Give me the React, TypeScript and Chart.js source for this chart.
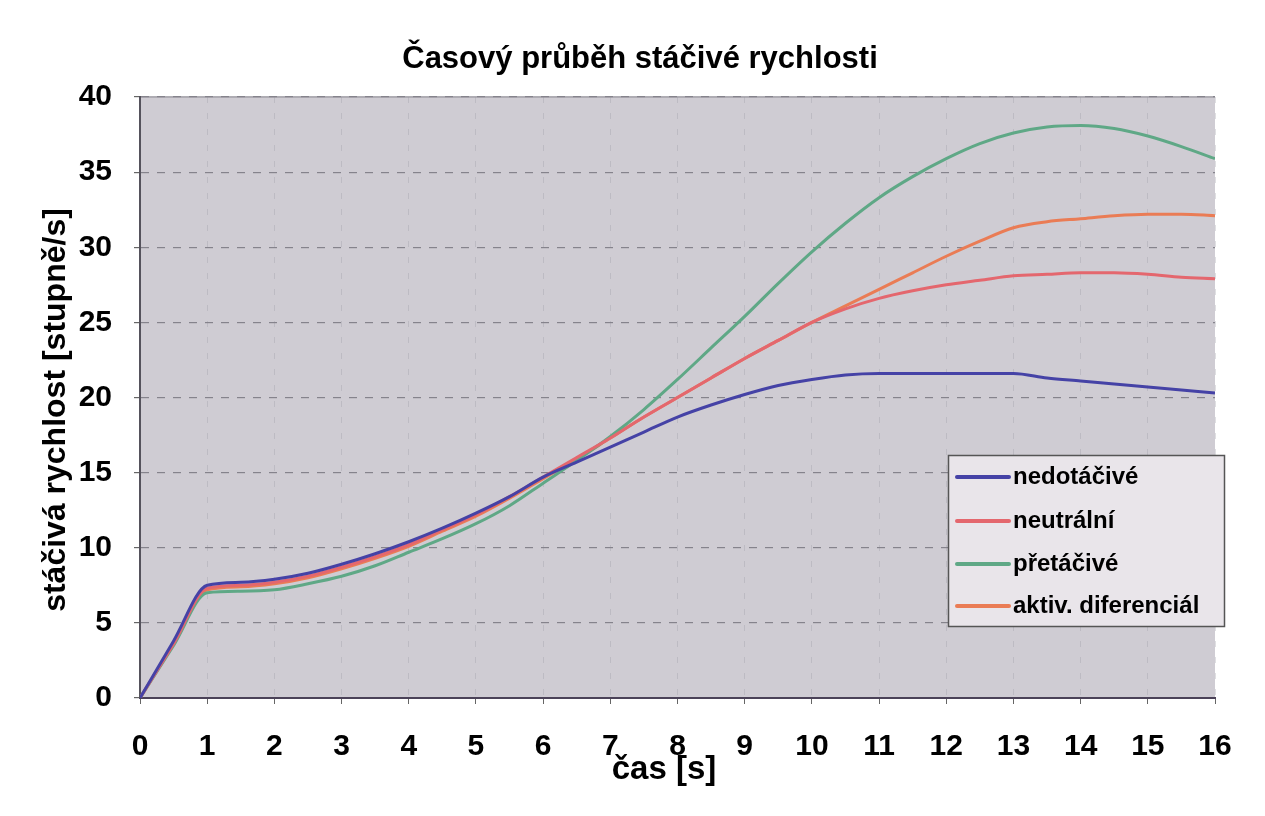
import React, { useEffect, useRef } from "react";
import { Chart, registerables } from "chart.js";

Chart.register(...registerables);

const TITLE = "Časový průběh stáčivé rychlosti";
const X_TITLE = "čas [s]";
const Y_TITLE = "stáčivá rychlost [stupně/s]";

const timeS = [0, 0.5, 1, 1.5, 2, 2.5, 3, 3.5, 4, 4.5, 5, 5.5, 6, 6.5, 7, 7.5, 8, 8.5, 9, 9.5, 10, 10.5, 11, 11.5, 12, 12.5, 13, 13.5, 14, 14.5, 15, 15.5, 16];

const labels = ["nedotáčivé", "neutrální", "přetáčivé", "aktiv. diferenciál"];
const colors = ["#4542a6", "#e4676e", "#5fa886", "#ea7c55"];

const nedotacive = [0, 3.8, 7.5, 7.7, 7.9, 8.3, 8.9, 9.6, 10.4, 11.3, 12.3, 13.4, 14.7, 15.7, 16.7, 17.7, 18.7, 19.5, 20.2, 20.8, 21.2, 21.5, 21.6, 21.6, 21.6, 21.6, 21.6, 21.3, 21.1, 20.9, 20.7, 20.5, 20.3];
const neutralni = [0, 3.6, 7.3, 7.5, 7.7, 8.1, 8.7, 9.4, 10.2, 11.2, 12.2, 13.4, 14.7, 16.0, 17.3, 18.7, 20.0, 21.3, 22.6, 23.8, 25.0, 25.9, 26.6, 27.1, 27.5, 27.8, 28.1, 28.2, 28.3, 28.3, 28.2, 28.0, 27.9];
const pretacive = [0, 3.5, 7.0, 7.1, 7.2, 7.6, 8.1, 8.8, 9.7, 10.6, 11.6, 12.8, 14.3, 15.8, 17.4, 19.2, 21.2, 23.3, 25.4, 27.6, 29.7, 31.6, 33.3, 34.7, 35.9, 36.9, 37.6, 38.0, 38.1, 37.9, 37.4, 36.7, 35.9];
const aktivDiferencial = [0, 3.6, 7.2, 7.4, 7.6, 8.0, 8.6, 9.3, 10.1, 11.1, 12.1, 13.3, 14.6, 15.9, 17.3, 18.7, 20.0, 21.3, 22.6, 23.8, 25.0, 26.1, 27.2, 28.3, 29.4, 30.4, 31.3, 31.7, 31.9, 32.1, 32.2, 32.2, 32.1];

const seriesValues = [nedotacive, neutralni, pretacive, aktivDiferencial];

const xTicks = [0, 1, 2, 3, 4, 5, 6, 7, 8, 9, 10, 11, 12, 13, 14, 15, 16];
const yTicks = [0, 5, 10, 15, 20, 25, 30, 35, 40];

const FONT = '"Liberation Sans", Arial, Helvetica, sans-serif';

const decorPlugin = {
  id: "decor",
  beforeDraw(chart: any) {
    const { ctx, chartArea: a } = chart;
    ctx.save();
    ctx.fillStyle = "#ffffff";
    ctx.fillRect(0, 0, chart.width, chart.height);
    ctx.fillStyle = "#cfccd3";
    ctx.fillRect(a.left, a.top, a.right - a.left, a.bottom - a.top);
    ctx.strokeStyle = "#aeacb3";
    ctx.lineWidth = 2;
    ctx.beginPath();
    ctx.moveTo(a.left, a.top);
    ctx.lineTo(a.right, a.top);
    ctx.stroke();
    ctx.restore();
  },
  afterDraw(chart: any) {
    const { ctx } = chart;
    ctx.save();
    ctx.fillStyle = "#000";
    ctx.textAlign = "center";
    ctx.textBaseline = "middle";
    ctx.font = `bold 31px ${FONT}`;
    ctx.fillText(TITLE, 640, 59);
    ctx.font = `bold 33px ${FONT}`;
    ctx.fillText(X_TITLE, 664, 770);
    ctx.save();
    ctx.translate(56, 410);
    ctx.rotate(-Math.PI / 2);
    ctx.font = `bold 32px ${FONT}`;
    ctx.fillText(Y_TITLE, 0, 0);
    ctx.restore();

    // legend
    const bx = 948.5, by = 455.5, bw = 276, bh = 171;
    ctx.fillStyle = "#e9e5ea";
    ctx.fillRect(bx, by, bw, bh);
    ctx.strokeStyle = "#555";
    ctx.lineWidth = 1.5;
    ctx.strokeRect(bx, by, bw, bh);
    const rows = [477, 521, 564, 606];
    chart.data.datasets.forEach((ds: any, i: number) => {
      const y = rows[i];
      ctx.strokeStyle = ds.borderColor;
      ctx.lineWidth = 4;
      ctx.lineCap = "round";
      ctx.beginPath();
      ctx.moveTo(957, y);
      ctx.lineTo(1009, y);
      ctx.stroke();
      ctx.fillStyle = "#000";
      ctx.textAlign = "left";
      ctx.font = `bold 24px ${FONT}`;
      ctx.fillText(ds.label, 1013, y);
    });
    ctx.restore();
  },
};

export default function App() {
  const ref = useRef<HTMLCanvasElement>(null);
  useEffect(() => {
    document.body.style.margin = "0";
    const canvas = ref.current!;
    const chart = new Chart(canvas, {
      type: "line",
      data: {
        datasets: seriesValues.map((vals, i) => ({
          label: labels[i],
          data: timeS.map((t, j) => ({ x: t, y: vals[j] })),
          borderColor: colors[i],
          backgroundColor: colors[i],
          borderWidth: 3,
          pointRadius: 0,
          cubicInterpolationMode: "monotone" as const,
          fill: false,
        })),
      },
      options: {
        animation: false,
        responsive: false,
        maintainAspectRatio: false,
        layout: { padding: { top: 97, right: 50, bottom: 0, left: 0 } },
        plugins: {
          legend: { display: false },
          title: { display: false },
          tooltip: { enabled: false },
        },
        scales: {
          x: {
            type: "linear",
            min: 0,
            max: 16,
            afterFit: (s: any) => { s.height = 118; },
            afterBuildTicks: (s: any) => { s.ticks = xTicks.map((v) => ({ value: v })); },
            ticks: {
              color: "#000",
              font: { family: FONT, size: 30, weight: "bold" },
              padding: 25,
              maxRotation: 0,
              autoSkip: false,
            },
            grid: {
              color: "rgba(150,148,158,0.3)",
              tickColor: "#666",
              tickLength: 6,
              lineWidth: 1,
            },
            border: { color: "#4b4258", width: 2, dash: [6, 10] },
          },
          y: {
            type: "linear",
            min: 0,
            max: 40,
            afterFit: (s: any) => { s.width = 140; },
            afterBuildTicks: (s: any) => { s.ticks = yTicks.map((v) => ({ value: v })); },
            ticks: {
              color: "#000",
              font: { family: FONT, size: 30, weight: "bold" },
              padding: 22,
            },
            grid: {
              color: "#85838c",
              tickColor: "#666",
              tickLength: 6,
              lineWidth: 1.2,
            },
            border: { color: "#55525c", width: 2, dash: [8, 8] },
          },
        },
      },
      plugins: [decorPlugin],
    });
    return () => chart.destroy();
  }, []);
  return <canvas ref={ref} width={1265} height={816} style={{ display: "block", width: 1265, height: 816 }} />;
}
